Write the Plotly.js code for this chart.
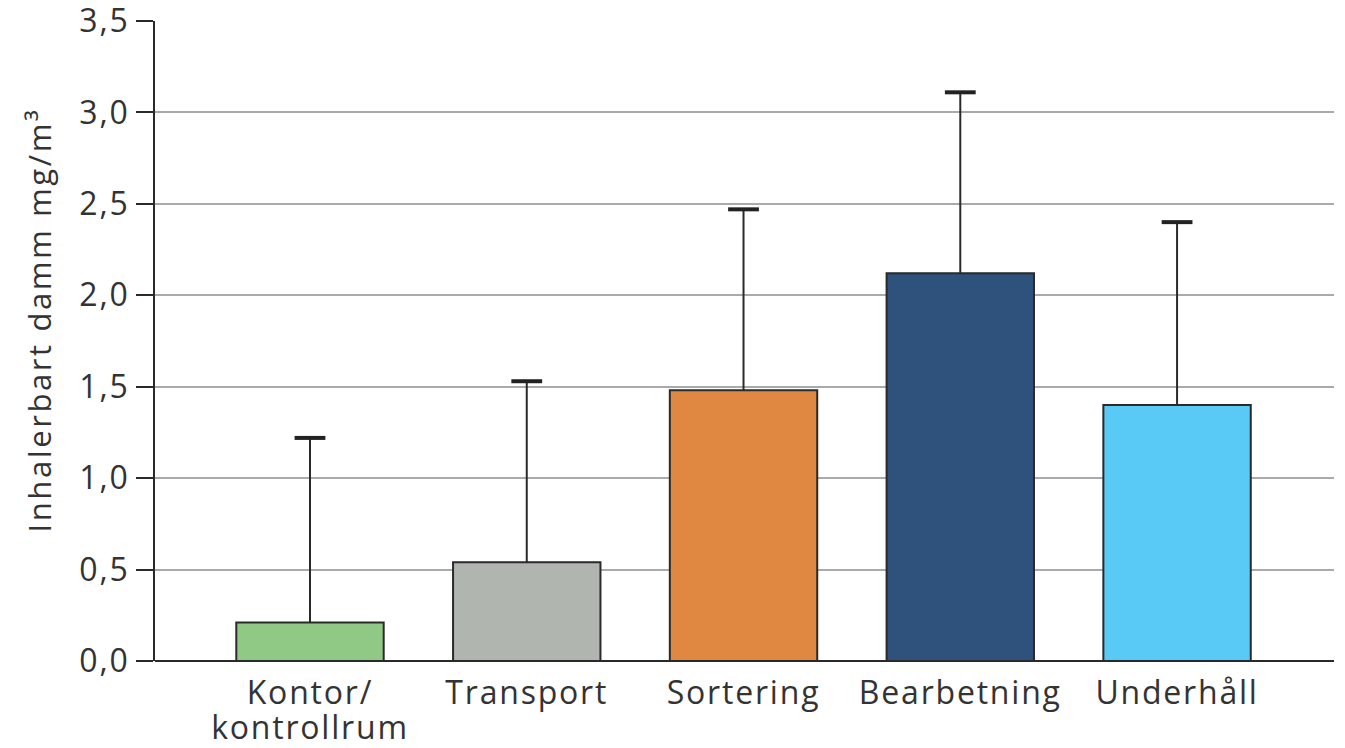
<!DOCTYPE html>
<html>
<head>
<meta charset="utf-8">
<script src="https://cdn.plot.ly/plotly-3.0.1.min.js"></script>
<style>
html,body{margin:0;padding:0;background:#fff;}
#chart{width:1345px;height:748px;}
#chart .xtick text, #chart .ytick text{letter-spacing:1.8px;}
#chart .annotation-text{letter-spacing:2.6px;}
</style>
</head>
<body>
<div id="chart"></div>
<script>
const categories = ["Kontor/<br>kontrollrum", "Transport", "Sortering", "Bearbetning", "Underhåll"];
const values = [0.21, 0.54, 1.48, 2.12, 1.40];
const errors = [1.01, 0.99, 0.99, 0.99, 1.00];
const barColors = ["#90c886", "#b0b5b0", "#e08842", "#2e527c", "#58caf5"];
const yTickVals = [0, 0.5, 1, 1.5, 2, 2.5, 3, 3.5];
const yTitle = "Inhalerbart damm mg/m³";

const fontFam = "Open Sans, sans-serif";
const capY = values.map((v, i) => v + errors[i]);

const bars = {
  type: "bar",
  x: categories,
  y: values,
  width: 0.68,
  marker: {color: barColors, line: {color: "#2a2a2a", width: 2}},
  error_y: {type: "data", array: errors, arrayminus: values.map(() => 0), symmetric: false,
            color: "#2a2a2a", thickness: 2, width: 0},
  hoverinfo: "skip"
};
const caps = {
  type: "scatter",
  mode: "markers",
  x: categories,
  y: capY,
  marker: {symbol: "line-ew", size: 22, line: {color: "#222", width: 4}},
  hoverinfo: "skip"
};

const layout = {
  width: 1345, height: 748,
  margin: {l: 155, r: 11, t: 21, b: 87},
  paper_bgcolor: "#fff", plot_bgcolor: "#fff",
  showlegend: false,
  separators: ",.",
  font: {family: fontFam, color: "#333", size: 32},
  xaxis: {
    type: "category",
    range: [-0.715, 4.724],
    showgrid: false, zeroline: false,
    showline: false, ticks: "",
    ticklabelstandoff: 10,
    tickfont: {family: fontFam, size: 32, color: "#333"},
    fixedrange: true
  },
  yaxis: {
    range: [0, 3.5],
    tickvals: yTickVals,
    tickformat: ".1f",
    ticklabeloverflow: "allow",
    showgrid: true, gridcolor: "#aaaaaa", gridwidth: 2,
    zeroline: true, zerolinecolor: "#2a2a2a", zerolinewidth: 2,
    showline: true, linecolor: "#2a2a2a", linewidth: 2,
    ticks: "outside", ticklen: 17, tickwidth: 2, tickcolor: "#2a2a2a",
    tickfont: {family: fontFam, size: 32, color: "#333"},
    fixedrange: true
  },
  annotations: [{
    text: yTitle, textangle: -90,
    xref: "paper", yref: "paper",
    x: (39 - 155) / 1179, y: (661 - 320) / 640,
    xanchor: "center", yanchor: "middle",
    showarrow: false,
    font: {family: fontFam, size: 31, color: "#333"}
  }]
};

Plotly.newPlot("chart", [bars, caps], layout, {displayModeBar: false, staticPlot: true}).then(() => {
  document.querySelectorAll("#chart .xtick text tspan.line").forEach(t => {
    const dy = t.getAttribute("dy");
    if (dy && parseFloat(dy) > 0) t.setAttribute("dy", "1.1em");
  });
});
</script>
</body>
</html>
